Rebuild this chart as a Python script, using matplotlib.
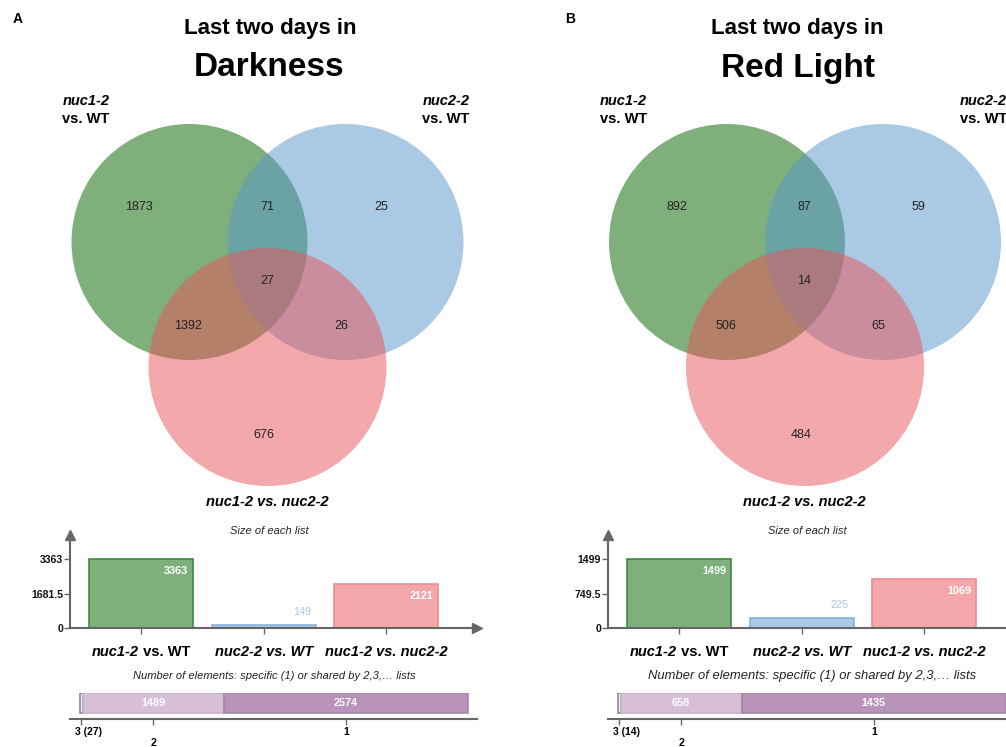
import matplotlib
matplotlib.use("Agg")
import matplotlib.pyplot as plt
from matplotlib.patches import Circle
from matplotlib.offsetbox import TextArea, HPacker, AnnotationBbox

plt.rcParams['font.family'] = ['Liberation Sans', 'DejaVu Sans']

W, H = 1006, 747

# Venn regions: only 1, 1&2, only 2, 1&2&3, 1&3, 2&3, only 3
dark_regions = [1873, 71, 25, 27, 1392, 26, 676]
red_regions = [892, 87, 59, 14, 506, 65, 484]

list_names = ["nuc1-2 vs. WT", "nuc2-2 vs. WT", "nuc1-2 vs. nuc2-2"]
# (piece, italic) for the labels under the bars
list_label_parts = [[("nuc1-2", True), (" vs. WT", False)],
                    [("nuc2-2 vs. WT", True)],
                    [("nuc1-2 vs. nuc2-2", True)]]
dark_sizes = [3363, 149, 2121]
red_sizes = [1499, 225, 1069]

shared_levels = [3, 2, 1]
dark_shared = [27, 1489, 2574]
red_shared = [14, 658, 1435]

venn_colors = ['#7fb07c', '#5a98cc', '#e9525a']
venn_alpha = [1.0, 0.52, 0.5]
bar_face = ['#7fb07c', '#a9c9e4', '#f4a7ab']
bar_edge = ['#3f8a3b', '#86b3dc', '#ee8c92']
shared_face = ['#f2ecf2', '#d8bfd8', '#b994ba']
shared_edge = ['#8a8a8a', '#c9b3c9', '#a886aa']
axis_col = '#666666'

fig = plt.figure(figsize=(W / 100, H / 100), dpi=100)
canvas = fig.add_axes([0, 0, 1, 1])
canvas.set_xlim(0, W)
canvas.set_ylim(H, 0)
canvas.axis('off')


def fig_rect(x0, y0, x1, y1):
    # pixel box with origin at top left -> figure fractions
    return [x0 / W, 1 - y1 / H, (x1 - x0) / W, (y1 - y0) / H]


def draw_venn(dx, regions):
    centers = [(189.5, 242), (345.5, 242), (267.5, 367)]
    radii = [118, 118, 119]
    for (cx, cy), r, c, a in zip(centers, radii, venn_colors, venn_alpha):
        canvas.add_patch(Circle((cx + dx, cy), r, facecolor=c, alpha=a,
                                edgecolor='none'))
    spots = [(139, 207), (267, 207), (381, 207), (267, 281),
             (188, 326), (341, 326), (264, 435)]
    for (x, y), n in zip(spots, regions):
        canvas.text(x + dx, y, str(n), ha='center', va='center',
                    fontsize=9, color='#222222')
    for x, top in [(86, 'nuc1-2'), (446, 'nuc2-2')]:
        canvas.text(x + dx, 101, top, ha='center', va='center', fontsize=10.5,
                    fontweight='bold', fontstyle='italic')
        canvas.text(x + dx, 119, 'vs. WT', ha='center', va='center',
                    fontsize=10.5, fontweight='bold')
    canvas.text(267 + dx, 502, 'nuc1-2 vs. nuc2-2', ha='center', va='center',
                fontsize=10.5, fontweight='bold', fontstyle='italic')


def draw_sizes(dx, sizes):
    canvas.text(269 + dx, 531, 'Size of each list', ha='center', va='center',
                fontsize=8, fontstyle='italic', color='#222222')
    ax = fig.add_axes(fig_rect(70 + dx, 535, 477 + dx, 628))
    ax.patch.set_visible(False)
    top = max(sizes)
    x = range(len(sizes))
    ax.bar(x, sizes, width=0.85, color=bar_face, edgecolor=bar_edge,
           linewidth=1.2)
    ax.set_xlim(-0.58, 2.74)
    ax.set_ylim(0, top * 93 / 69)
    for s in ['top', 'right']:
        ax.spines[s].set_visible(False)
    for s in ['left', 'bottom']:
        ax.spines[s].set_color(axis_col)
        ax.spines[s].set_linewidth(1.5)
    ax.plot(0, 1, marker='^', ms=7, color=axis_col, transform=ax.transAxes,
            clip_on=False)
    ax.plot(1, 0, marker='>', ms=7, color=axis_col, transform=ax.transAxes,
            clip_on=False)
    ax.set_yticks([0, top / 2, top])
    ax.set_yticklabels(['{:g}'.format(v) for v in [0, top / 2, top]],
                       fontweight='bold', fontsize=7.6)
    ax.set_xticks(list(x))
    ax.set_xticklabels([])
    ax.tick_params(length=4, width=1, color=axis_col, labelcolor='#111111',
                   pad=1)
    for i, v in enumerate(sizes):
        inside = v / top * 69 > 20
        ax.annotate(str(v), xy=(i + 0.425, v),
                    xytext=(-5, -12 if inside else 13),
                    textcoords='offset pixels', ha='right', va='center',
                    fontsize=7.8, fontweight='bold' if inside else 'normal',
                    color='white' if inside else bar_face[i])
    for i, parts in enumerate(list_label_parts):
        boxes = [TextArea(t, textprops=dict(fontsize=10.5, fontweight='bold',
                                            fontstyle='italic' if it else 'normal'))
                 for t, it in parts]
        pack = HPacker(children=boxes, pad=0, sep=0, align='baseline')
        ab = AnnotationBbox(pack, (i, 0), xybox=(0, -17.3),
                            boxcoords='offset points', box_alignment=(0.5, 0.5),
                            frameon=False, pad=0, annotation_clip=False)
        ax.add_artist(ab)


def draw_shared(dx, counts, note_size):
    canvas.text(274 + dx, 676,
                'Number of elements: specific (1) or shared by 2,3,\u2026 lists',
                ha='center', va='center', fontsize=note_size,
                fontstyle='italic', color='#222222')
    ax = fig.add_axes(fig_rect(70 + dx, 693, 477 + dx, 719))
    ax.patch.set_visible(False)
    total = sum(counts)
    px = 388 / total
    starts = [sum(counts[:i]) for i in range(len(counts))]
    ax.barh(16, counts, left=starts, height=20, color=shared_face,
            edgecolor=shared_edge, linewidth=1.2)
    ax.set_xlim(-10 / px, total + 9 / px)
    ax.set_ylim(0, 26)
    for s in ['top', 'right', 'left']:
        ax.spines[s].set_visible(False)
    ax.spines['bottom'].set_color(axis_col)
    ax.spines['bottom'].set_linewidth(1.5)
    mids = [s + c / 2 for s, c in zip(starts, counts)]
    ax.set_xticks(mids)
    ax.set_xticklabels([])
    ax.set_yticks([])
    ax.tick_params(axis='x', length=4, width=1, color=axis_col)
    for i, (lvl, c, m) in enumerate(zip(shared_levels, counts, mids)):
        if c * px > 25:
            ax.text(m, 16, str(c), ha='center', va='center', fontsize=7.8,
                    fontweight='bold', color='white')
        if c * px < 25:
            ax.annotate('{} ({})'.format(lvl, c), xy=(m, 0), xytext=(-6, -13),
                        textcoords='offset pixels', ha='left', va='center',
                        fontsize=7.6, fontweight='bold', annotation_clip=False)
        else:
            ax.annotate(str(lvl), xy=(m, 0), xytext=(0, -24 if i == 1 else -13),
                        textcoords='offset pixels', ha='center', va='center',
                        fontsize=7.6, fontweight='bold', annotation_clip=False)


# panel A: darkness
canvas.text(18, 19, 'A', ha='center', va='center', fontsize=10,
            fontweight='bold')
canvas.text(270, 34, 'Last two days in', ha='center', va='baseline',
            fontsize=16, fontweight='bold')
canvas.text(269, 68, 'Darkness', ha='center', va='center', fontsize=24,
            fontweight='bold')
draw_venn(0, dark_regions)
draw_sizes(0, dark_sizes)
draw_shared(0, dark_shared, 8)

# panel B: red light
canvas.text(570, 19, 'B', ha='center', va='center', fontsize=10,
            fontweight='bold')
canvas.text(797, 34, 'Last two days in', ha='center', va='baseline',
            fontsize=16, fontweight='bold')
canvas.text(798, 68, 'Red Light', ha='center', va='center', fontsize=24,
            fontweight='bold')
draw_venn(537.5, red_regions)
draw_sizes(538, red_sizes)
draw_shared(538, red_shared, 9.4)

fig.savefig('out.png', dpi=100)
